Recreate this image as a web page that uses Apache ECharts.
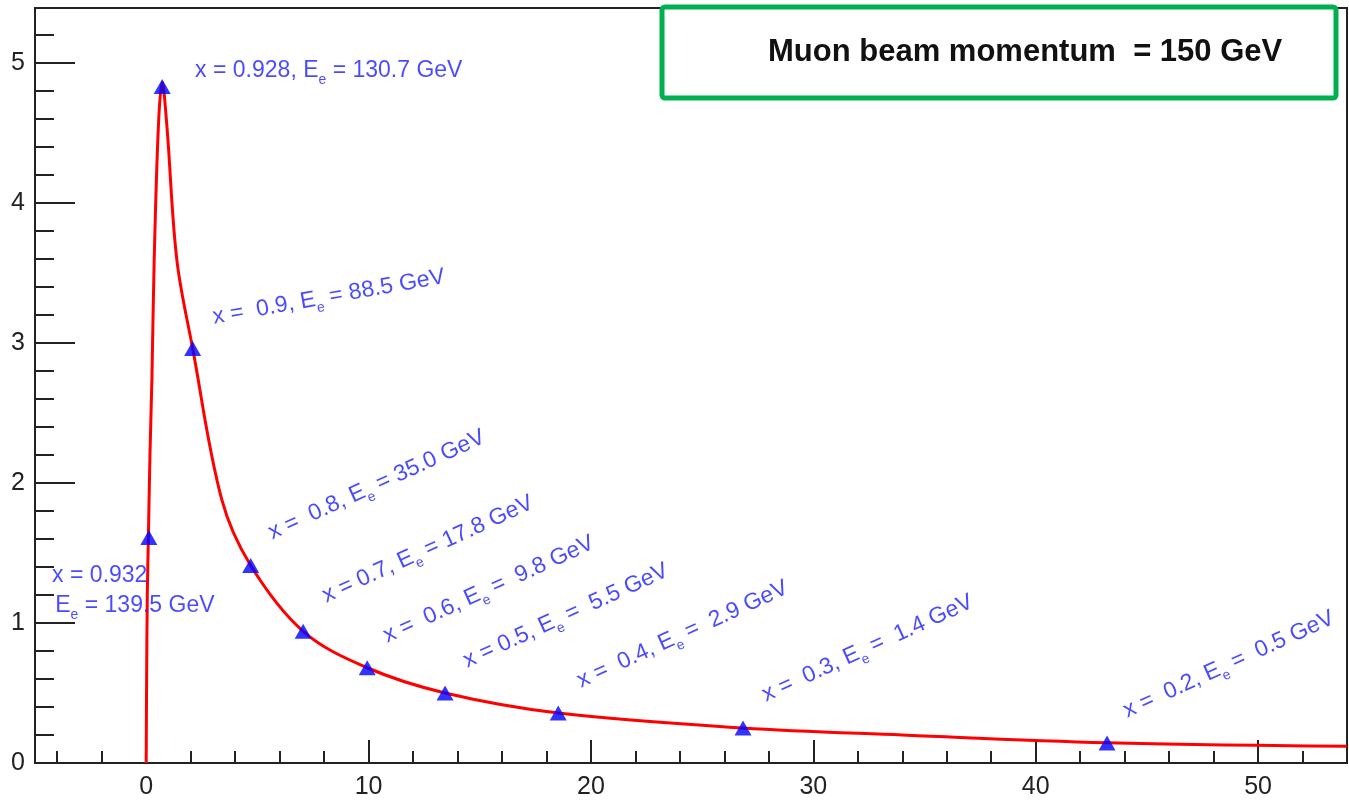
<!DOCTYPE html>
<html>
<head>
<meta charset="utf-8">
<script src="https://cdn.jsdelivr.net/npm/echarts@6/dist/echarts.min.js"></script>
<style>
  html, body { margin: 0; padding: 0; background: #fff; }
  #chart { width: 1349px; height: 800px; }
</style>
</head>
<body>
<div id="chart"></div>
<script>
// red curve
var curveX = [0, 0.02, 0.05, 0.1, 0.17, 0.26, 0.36, 0.55, 0.72, 0.93, 1.38, 2.09, 3.4, 4.7, 7.06, 9.94, 13.44, 18.53, 26.84, 34, 43.2, 54];
var curveY = [0, 0.6, 1.2, 1.62, 2.2, 2.76, 3.59, 4.55, 4.86, 4.55, 3.59, 2.96, 1.88, 1.41, 0.94, 0.68, 0.50, 0.357, 0.25, 0.20, 0.145, 0.12];

// blue triangles
var pointX = [0.12, 0.72, 2.09, 4.7, 7.06, 9.94, 13.44, 18.53, 26.84, 43.21];
var pointY = [1.61, 4.83, 2.96, 1.41, 0.94, 0.68, 0.50, 0.357, 0.25, 0.143];

// annotations: anchor (left end, middle of text), angle, text
var noteX = [2.2, -4.23, -4.09, 3.0, 5.55, 7.98, 10.72, 14.32, 19.44, 27.76, 44.0];
var noteY = [4.94, 1.336, 1.121, 3.18, 1.636, 1.186, 0.9, 0.721, 0.579, 0.479, 0.364];
var noteAngle = [0, 0, 0, 10, 24.5, 24.5, 24.5, 24.5, 24.5, 24.5, 24.5];
var noteText = [
  'x = 0.928, E_e = 130.7 GeV',
  'x = 0.932',
  'E_e = 139.5 GeV',
  'x =  0.9, E_e = 88.5 GeV',
  'x =  0.8, E_e = 35.0 GeV',
  'x = 0.7, E_e = 17.8 GeV',
  'x =  0.6, E_e =  9.8 GeV',
  'x = 0.5, E_e =  5.5 GeV',
  'x =  0.4, E_e =  2.9 GeV',
  'x =  0.3, E_e =  1.4 GeV',
  'x =  0.2, E_e =  0.5 GeV'
];

// ticks
var xMajor = [0, 10, 20, 30, 40, 50];
var xMinor = [-4, -2, 2, 4, 6, 8, 12, 14, 16, 18, 22, 24, 26, 28, 32, 34, 36, 38, 42, 44, 46, 48, 52];
var yMajor = [0, 1, 2, 3, 4, 5];
var yMinor = [0.2, 0.4, 0.6, 0.8, 1.2, 1.4, 1.6, 1.8, 2.2, 2.4, 2.6, 2.8, 3.2, 3.4, 3.6, 3.8, 4.2, 4.4, 4.6, 4.8, 5.2];

var boxText = 'Muon beam momentum  = 150 GeV';

var ink = '#222';
var blue = '#0000ff';
var noteBlue = '#1c1cff';
var font = 'Liberation Sans, Arial, Helvetica, sans-serif';

var curveData = curveX.map(function(x, i) { return [x, curveY[i]]; });
var pointData = pointX.map(function(x, i) { return [x, pointY[i]]; });
var noteData = noteX.map(function(x, i) {
  return {
    value: [x, noteY[i]],
    label: { rotate: noteAngle[i] },
    text: noteText[i],
    big: noteAngle[i] === 0
  };
});

function richNote(s, big) {
  var t = big ? 't' : 'r';
  var parts = s.split('E_e');
  if (parts.length < 2) return '{' + t + '|' + s + '}';
  return '{' + t + '|' + parts[0] + 'E}{s|e}{' + t + '|' + parts[1] + '}';
}

var chart = echarts.init(document.getElementById('chart'));

chart.setOption({
  animation: false,
  backgroundColor: '#fff',
  grid: {
    left: 35, right: 2, top: 8, bottom: 37,
    show: true, borderColor: ink, borderWidth: 2, backgroundColor: 'transparent'
  },
  xAxis: [
    {
      type: 'value', min: -5, max: 54, position: 'bottom',
      axisLine: { onZero: false, lineStyle: { color: ink, width: 2 } },
      axisTick: { inside: true, length: 23, customValues: xMajor, lineStyle: { color: ink, width: 2 } },
      axisLabel: { customValues: xMajor, color: ink, fontSize: 25, fontFamily: font, margin: 12 },
      splitLine: { show: false }
    },
    {
      type: 'value', min: -5, max: 54, position: 'bottom',
      axisLine: { show: false, onZero: false },
      axisTick: { inside: true, length: 12, customValues: xMinor, lineStyle: { color: ink, width: 2 } },
      axisLabel: { show: false },
      splitLine: { show: false }
    }
  ],
  yAxis: [
    {
      type: 'value', min: 0, max: 5.39, position: 'left',
      axisLine: { show: true, onZero: false, lineStyle: { color: ink, width: 2 } },
      axisTick: { show: true, inside: true, length: 40, customValues: yMajor, lineStyle: { color: ink, width: 2 } },
      axisLabel: { customValues: yMajor, color: ink, fontSize: 25, fontFamily: font, margin: 10 },
      splitLine: { show: false }
    },
    {
      type: 'value', min: 0, max: 5.39, position: 'left',
      axisLine: { show: false, onZero: false },
      axisTick: { show: true, inside: true, length: 19, customValues: yMinor, lineStyle: { color: ink, width: 2 } },
      axisLabel: { show: false },
      splitLine: { show: false }
    }
  ],
  series: [
    {
      type: 'line',
      data: curveData,
      smooth: 0.35,
      symbol: 'none',
      lineStyle: { color: '#ff0000', width: 3 },
      z: 2
    },
    {
      type: 'scatter',
      data: pointData,
      symbol: 'triangle',
      symbolSize: [17, 15],
      itemStyle: { color: blue },
      z: 3
    },
    {
      type: 'scatter',
      data: noteData,
      symbolSize: 1,
      itemStyle: { color: 'transparent' },
      silent: true,
      label: {
        show: true,
        position: 'inside',
        align: 'left',
        verticalAlign: 'middle',
        formatter: function(p) { return richNote(p.data.text, p.data.big); },
        rich: {
          t: { fontSize: 23, fontFamily: font, color: noteBlue },
          r: { fontSize: 23, fontFamily: font, color: noteBlue },
          s: { fontSize: 14, fontFamily: font, color: noteBlue, padding: [18, 0, 0, 0] }
        }
      },
      z: 4
    }
  ],
  graphic: [
    {
      type: 'rect',
      shape: { x: 662, y: 7, width: 674, height: 91, r: 3 },
      style: { fill: '#fff', stroke: '#00b050', lineWidth: 5 },
      z: 100
    },
    {
      type: 'text',
      x: 768, y: 52,
      style: {
        text: boxText,
        fill: '#111',
        font: 'bold 31px ' + font,
        textVerticalAlign: 'middle',
        textAlign: 'left'
      },
      z: 101
    }
  ]
});
</script>
</body>
</html>
